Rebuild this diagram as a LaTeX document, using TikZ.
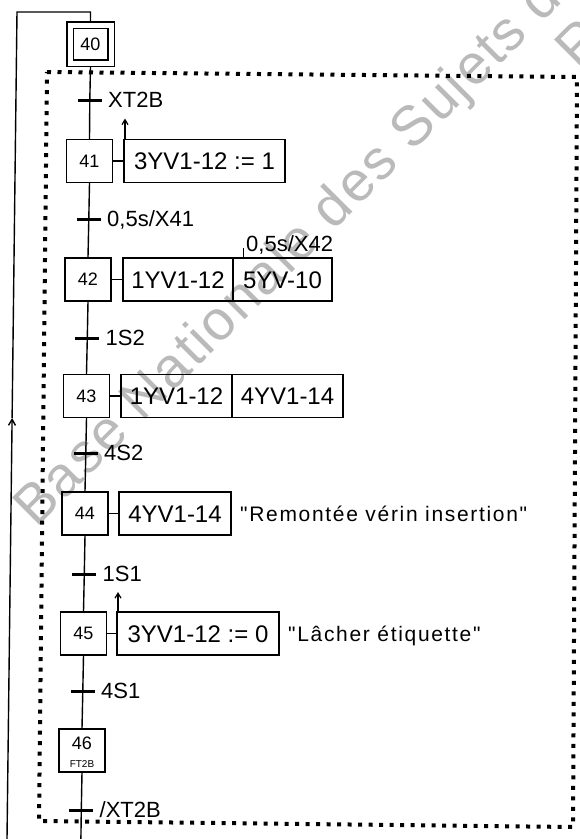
\documentclass[tikz,border=0pt]{standalone}
\usepackage{fontspec}
\setmainfont{Liberation Sans}
\newfontfamily\remfont[LetterSpace=8]{Liberation Sans}
\newfontfamily\wmfont[LetterSpace=3.5]{Liberation Sans}
\usetikzlibrary{arrows.meta}
\begin{document}
\begin{tikzpicture}[x=1pt,y=-1pt,
  wire/.style={line width=1.4pt},
  stepbox/.style={draw, line width=1.4pt, minimum width=46pt, minimum height=43pt, inner sep=0pt,
    font=\fontsize{18}{18}\selectfont, text height=12.9pt, text depth=0pt},
  actbox/.style={draw, line width=1.4pt, minimum height=43pt, inner sep=0pt, outer sep=0pt, anchor=west,
    font=\fontsize{24}{24}\selectfont, text height=17.2pt, text depth=0pt},
  trans/.style={fill=black, minimum width=24pt, minimum height=3pt, inner sep=0pt},
  tlabel/.style={anchor=west, inner sep=0pt, font=\fontsize{22}{22}\selectfont, text height=15.8pt, text depth=0pt},
  remark/.style={anchor=west, inner sep=0pt, font=\remfont\fontsize{21}{21}\selectfont, text height=15pt, text depth=0pt},
  memo/.style={line width=1.2pt, -{Straight Barb[length=5pt,width=6pt]}},
  frame/.style={line width=4pt, dash pattern=on 4pt off 6.5pt},
  wmark/.style={text=black!27, font=\wmfont\fontsize{56}{60}\selectfont, anchor=base west, rotate=45, inner sep=0pt}
]
\useasboundingbox (0,0) rectangle (579,839);

% watermark
\begin{scope}
\clip (0,0) rectangle (579,839);
\node[wmark] (wm1) at (36,529) {Base Nationale des Sujets d'Examens de l'enseignement professionnel};
\node[wmark] (wm2) at (578,71) {Réseau Canopé};
\end{scope}

% dotted frame
\draw[frame] (47,72) -- (577,77) -- (573,827) -- (39,821) -- cycle;

% steps
\node[stepbox, double, double distance=5pt, minimum width=41pt, minimum height=38pt, outer sep=4pt] (s40) at (90.5,44) {40};
\node[trans] (t1) at (89.8,100) {};
\node[stepbox] (s41) at (89.5,161) {41};
\node[trans] (t2) at (88.8,219) {};
\node[stepbox] (s42) at (88,279.5) {42};
\node[trans] (t3) at (87.3,338) {};
\node[stepbox] (s43) at (86.5,396) {43};
\node[trans] (t4) at (85.8,453) {};
\node[stepbox] (s44) at (85,513.5) {44};
\node[trans] (t5) at (84.3,574) {};
\node[stepbox] (s45) at (83.5,633.5) {45};
\node[trans] (t6) at (82.8,691) {};
\node[stepbox] (s46) at (82,750.5) {};
\node[inner sep=0pt, font=\fontsize{18}{18}\selectfont, text height=12.9pt, text depth=0pt] (s46n) at ([yshift=7pt]s46.center) {46};
\node[inner sep=0pt, font=\fontsize{10}{10}\selectfont, text height=7.2pt, text depth=0pt] (s46f) at ([yshift=-13.5pt]s46.center) {FT2B};
\node[trans] (t7) at (81.3,810) {};
\coordinate (sb) at (80.9,839);

% spine
\draw[wire] (s40.south) -- (t1.center) -- (s41.north);
\draw[wire] (s41.south) -- (t2.center) -- (s42.north);
\draw[wire] (s42.south) -- (t3.center) -- (s43.north);
\draw[wire] (s43.south) -- (t4.center) -- (s44.north);
\draw[wire] (s44.south) -- (t5.center) -- (s45.north);
\draw[wire] (s45.south) -- (t6.center) -- (s46.north);
\draw[wire] (s46.south) -- (t7.center) -- (sb);

% transition labels
\node[tlabel] (l1) at ([xshift=6pt]t1.east) {XT2B};
\node[tlabel] (l2) at ([xshift=6pt]t2.east) {0,5s/X41};
\node[tlabel] (l3) at ([xshift=6pt]t3.east) {1S2};
\node[tlabel] (l4) at ([xshift=6pt]t4.east) {4S2};
\node[tlabel] (l5) at ([xshift=6pt]t5.east) {1S1};
\node[tlabel] (l6) at ([xshift=6pt]t6.east) {4S1};
\node[tlabel] (l7) at ([xshift=6pt]t7.east) {/XT2B};

% actions
\node[actbox, minimum width=161pt] (a41) at (124,161) {3YV1-12 := 1};
\node[actbox, minimum width=110pt] (a42a) at (123,279.5) {1YV1-12};
\node[actbox, minimum width=99pt] (a42b) at (a42a.east) {5YV-10};
\node[actbox, minimum width=111pt] (a43a) at (121,396) {1YV1-12};
\node[actbox, minimum width=111pt] (a43b) at (a43a.east) {4YV1-14};
\node[actbox, minimum width=112pt] (a44) at (119,513.5) {4YV1-14};
\node[actbox, minimum width=162pt] (a45) at (117,633.5) {3YV1-12 := 0};

\draw[wire] (s41.east) -- (a41.west);
\draw[wire] (s42.east) -- (a42a.west);
\draw[wire] (s43.east) -- (a43a.west);
\draw[wire] (s44.east) -- (a44.west);
\draw[wire] (s45.east) -- (a45.west);

% memorised action arrows
\draw[memo] ([xshift=1pt]a41.north west) -- ++(0,-21);
\draw[memo] ([xshift=1pt]a45.north west) -- ++(0,-20);

% time tick on 5YV-10
\coordinate (tk) at ([xshift=10pt]a42b.north west);
\draw[line width=1pt] (tk) -- ++(0,-10);
\node[anchor=base west, inner sep=0pt, font=\fontsize{22}{22}\selectfont] (l42) at ([xshift=13pt,yshift=7pt]a42b.north west) {0,5s/X42};

% remarks
\node[remark] (r44) at ([xshift=9pt]a44.east) {"Remontée vérin insertion"};
\node[remark] (r45) at ([xshift=9pt]a45.east) {"Lâcher étiquette"};

% loop back
\coordinate (lb) at (7,839);
\coordinate (la) at (12.1,418);
\coordinate (lt) at (17,12);
\coordinate (lr) at (s40.north |- lt);
\draw[wire, -{Straight Barb[length=6pt,width=7pt]}] (lb) -- (la);
\draw[wire] (la) -- (lt) -- (lr) -- (s40.north);
\end{tikzpicture}
\end{document}
